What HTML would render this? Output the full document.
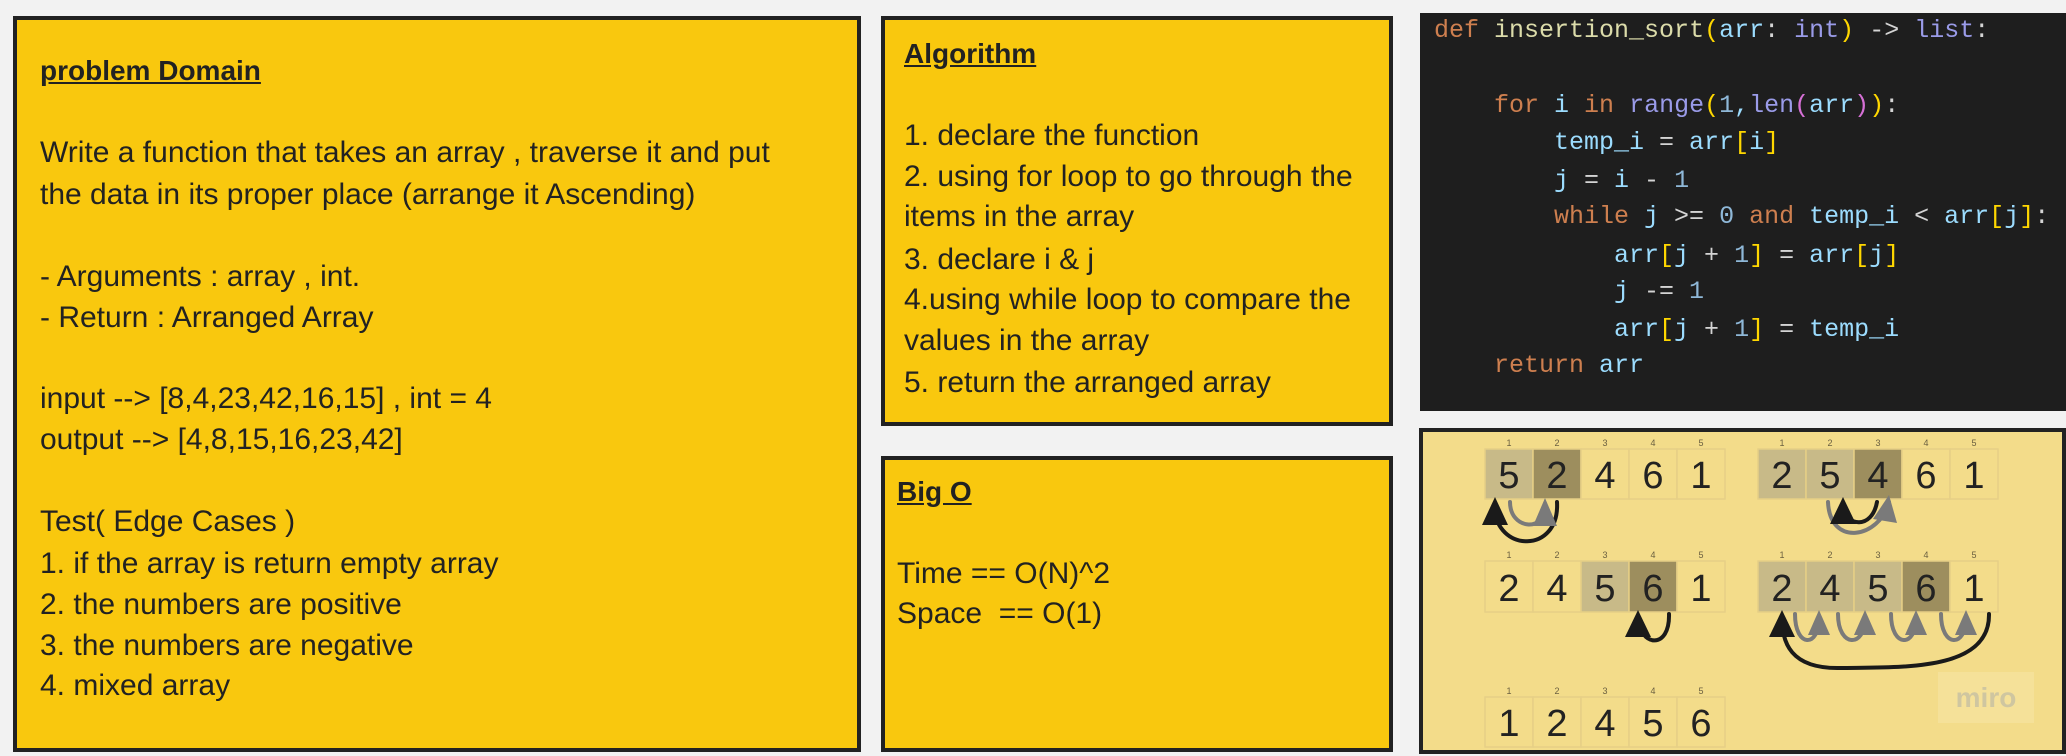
<!DOCTYPE html>
<html><head><meta charset="utf-8"><style>
body{margin:0;width:2066px;height:756px;background:#f2f2f2;position:relative;overflow:hidden;font-family:"Liberation Sans",sans-serif;}
.box{position:absolute;background:#f9c80e;border:4px solid #222;box-sizing:border-box;}
.t{position:absolute;font-size:30px;color:#222;white-space:nowrap;line-height:1;}
.h{font-weight:bold;text-decoration:underline;font-size:28px;}
.code{position:absolute;left:1420px;top:13px;width:646px;height:398px;background:#1e1e1e;}
.cl{position:absolute;font-family:"Liberation Mono",monospace;font-size:25px;color:#9cdcfe;white-space:pre;line-height:1;}
.k{color:#ce7f4f}.f{color:#dcdcaa}.ty{color:#9a9be8}.b{color:#ffd700}.n{color:#8fb8d8}.p{color:#d670d6}.w{color:#d4d4d4}
.dg{position:absolute;left:1419px;top:428px;width:647px;height:326px;background:#f3dc8a;border:4px solid #222;box-sizing:border-box;}
</style></head><body>
<div class="box" style="left:13px;top:16px;width:848px;height:736px"></div>
<div class="t h" style="left:40px;top:57px">problem Domain</div>
<div class="t" style="left:40px;top:138px">Write a function that takes an array , traverse it and put</div>
<div class="t" style="left:40px;top:180px">the data in its proper place (arrange it Ascending)</div>
<div class="t" style="left:40px;top:262px">- Arguments : array , int.</div>
<div class="t" style="left:40px;top:303px">- Return : Arranged Array</div>
<div class="t" style="left:40px;top:384px">input --&gt; [8,4,23,42,16,15] , int = 4</div>
<div class="t" style="left:40px;top:425px">output --&gt; [4,8,15,16,23,42]</div>
<div class="t" style="left:40px;top:507px">Test( Edge Cases )</div>
<div class="t" style="left:40px;top:549px">1. if the array is return empty array</div>
<div class="t" style="left:40px;top:590px">2. the numbers are positive</div>
<div class="t" style="left:40px;top:631px">3. the numbers are negative</div>
<div class="t" style="left:40px;top:671px">4. mixed array</div>

<div class="box" style="left:881px;top:16px;width:512px;height:410px"></div>
<div class="t h" style="left:904px;top:40px">Algorithm</div>
<div class="t" style="left:904px;top:121px">1. declare the function</div>
<div class="t" style="left:904px;top:162px">2. using for loop to go through the</div>
<div class="t" style="left:904px;top:202px">items in the array</div>
<div class="t" style="left:904px;top:245px">3. declare i &amp; j</div>
<div class="t" style="left:904px;top:285px">4.using while loop to compare the</div>
<div class="t" style="left:904px;top:326px">values in the array</div>
<div class="t" style="left:904px;top:368px">5. return the arranged array</div>

<div class="box" style="left:881px;top:456px;width:512px;height:296px"></div>
<div class="t h" style="left:897px;top:478px">Big O</div>
<div class="t" style="left:897px;top:559px">Time == O(N)^2</div>
<div class="t" style="left:897px;top:599px">Space&nbsp; == O(1)</div>

<div class="code"></div>
<div class="cl" style="left:1434px;top:18px"><span class="k">def</span> <span class="f">insertion_sort</span><span class="b">(</span>arr<span class="w">:</span> <span class="ty">int</span><span class="b">)</span> <span class="w">-&gt;</span> <span class="ty">list</span><span class="w">:</span></div>
<div class="cl" style="left:1494px;top:93px"><span class="k">for</span> i <span class="k">in</span> <span class="ty">range</span><span class="b">(</span><span class="n">1</span>,<span class="ty">len</span><span class="p">(</span>arr<span class="p">)</span><span class="b">)</span><span class="w">:</span></div>
<div class="cl" style="left:1554px;top:130px">temp_i <span class="w">=</span> arr<span class="b">[</span>i<span class="b">]</span></div>
<div class="cl" style="left:1554px;top:168px">j <span class="w">=</span> i <span class="w">-</span> <span class="n">1</span></div>
<div class="cl" style="left:1554px;top:204px"><span class="k">while</span> j <span class="w">&gt;=</span> <span class="n">0</span> <span class="k">and</span> temp_i <span class="w">&lt;</span> arr<span class="b">[</span>j<span class="b">]</span><span class="w">:</span></div>
<div class="cl" style="left:1614px;top:243px">arr<span class="b">[</span>j <span class="w">+</span> <span class="n">1</span><span class="b">]</span> <span class="w">=</span> arr<span class="b">[</span>j<span class="b">]</span></div>
<div class="cl" style="left:1614px;top:279px">j <span class="w">-=</span> <span class="n">1</span></div>
<div class="cl" style="left:1614px;top:317px">arr<span class="b">[</span>j <span class="w">+</span> <span class="n">1</span><span class="b">]</span> <span class="w">=</span> temp_i</div>
<div class="cl" style="left:1494px;top:353px"><span class="k">return</span> arr</div>

<div class="dg"></div>
<svg style="position:absolute;left:0;top:0" width="2066" height="756" font-family="Liberation Sans, sans-serif">
<g stroke="#e6cf86" stroke-width="1.5">
<rect x="1485" y="449" width="48" height="50" fill="#c8ba88"/><rect x="1533" y="449" width="48" height="50" fill="#9d8e5e"/><rect x="1581" y="449" width="48" height="50" fill="#f3dc8a"/><rect x="1629" y="449" width="48" height="50" fill="#f3dc8a"/><rect x="1677" y="449" width="48" height="50" fill="#f3dc8a"/>
<rect x="1758" y="449" width="48" height="50" fill="#c8ba88"/><rect x="1806" y="449" width="48" height="50" fill="#c8ba88"/><rect x="1854" y="449" width="48" height="50" fill="#9d8e5e"/><rect x="1902" y="449" width="48" height="50" fill="#f3dc8a"/><rect x="1950" y="449" width="48" height="50" fill="#f3dc8a"/>
<rect x="1485" y="561" width="48" height="51" fill="#f3dc8a"/><rect x="1533" y="561" width="48" height="51" fill="#f3dc8a"/><rect x="1581" y="561" width="48" height="51" fill="#c8ba88"/><rect x="1629" y="561" width="48" height="51" fill="#9d8e5e"/><rect x="1677" y="561" width="48" height="51" fill="#f3dc8a"/>
<rect x="1758" y="561" width="48" height="51" fill="#c8ba88"/><rect x="1806" y="561" width="48" height="51" fill="#c8ba88"/><rect x="1854" y="561" width="48" height="51" fill="#c8ba88"/><rect x="1902" y="561" width="48" height="51" fill="#9d8e5e"/><rect x="1950" y="561" width="48" height="51" fill="#f3dc8a"/>
<rect x="1485" y="697" width="48" height="50" fill="#f3dc8a"/><rect x="1533" y="697" width="48" height="50" fill="#f3dc8a"/><rect x="1581" y="697" width="48" height="50" fill="#f3dc8a"/><rect x="1629" y="697" width="48" height="50" fill="#f3dc8a"/><rect x="1677" y="697" width="48" height="50" fill="#f3dc8a"/>
</g>
<g font-size="38" fill="#222" text-anchor="middle">
<text x="1509" y="488">5</text><text x="1557" y="488">2</text><text x="1605" y="488">4</text><text x="1653" y="488">6</text><text x="1701" y="488">1</text>
<text x="1782" y="488">2</text><text x="1830" y="488">5</text><text x="1878" y="488">4</text><text x="1926" y="488">6</text><text x="1974" y="488">1</text>
<text x="1509" y="601">2</text><text x="1557" y="601">4</text><text x="1605" y="601">5</text><text x="1653" y="601">6</text><text x="1701" y="601">1</text>
<text x="1782" y="601">2</text><text x="1830" y="601">4</text><text x="1878" y="601">5</text><text x="1926" y="601">6</text><text x="1974" y="601">1</text>
<text x="1509" y="736">1</text><text x="1557" y="736">2</text><text x="1605" y="736">4</text><text x="1653" y="736">5</text><text x="1701" y="736">6</text>
</g>
<g font-size="9" fill="#6b6040" text-anchor="middle">
<text x="1509" y="446">1</text><text x="1557" y="446">2</text><text x="1605" y="446">3</text><text x="1653" y="446">4</text><text x="1701" y="446">5</text>
<text x="1782" y="446">1</text><text x="1830" y="446">2</text><text x="1878" y="446">3</text><text x="1926" y="446">4</text><text x="1974" y="446">5</text>
<text x="1509" y="558">1</text><text x="1557" y="558">2</text><text x="1605" y="558">3</text><text x="1653" y="558">4</text><text x="1701" y="558">5</text>
<text x="1782" y="558">1</text><text x="1830" y="558">2</text><text x="1878" y="558">3</text><text x="1926" y="558">4</text><text x="1974" y="558">5</text>
<text x="1509" y="694">1</text><text x="1557" y="694">2</text><text x="1605" y="694">3</text><text x="1653" y="694">4</text><text x="1701" y="694">5</text>
</g>
<g fill="none" stroke-width="4" stroke-linecap="round">
<path d="M1510 502 C1510 530 1545 532 1545 507" stroke="#7a7a7a"/>
<path d="M1557 502 C1560 555 1495 552 1495 507" stroke="#1a1a1a"/>
<path d="M1828 502 C1830 548 1880 538 1889 502" stroke="#7a7a7a"/>
<path d="M1877 502 C1872 530 1845 527 1843 505" stroke="#1a1a1a"/>
<path d="M1669 614 C1670 650 1640 647 1638 618" stroke="#1a1a1a"/>
<path d="M1989 614 C1990 672 1900 667 1840 668 C1790 669 1782 642 1782 618" stroke="#1a1a1a"/>
<path d="M1795 614 C1795 648 1819 648 1819 618" stroke="#7a7a7a"/>
<path d="M1838 614 C1838 648 1865 648 1865 618" stroke="#7a7a7a"/>
<path d="M1891 614 C1891 648 1916 648 1916 618" stroke="#7a7a7a"/>
<path d="M1941 614 C1941 648 1966 648 1966 618" stroke="#7a7a7a"/>
</g>
<g>
<polygon points="1545,498 1533,526 1557,526" fill="#7a7a7a"/>
<polygon points="1495,497 1482,525 1508,525" fill="#1a1a1a"/>
<polygon points="1889,495 1873,519 1897,523" fill="#7a7a7a"/>
<polygon points="1843,497 1830,524 1856,524" fill="#1a1a1a"/>
<polygon points="1638,610 1625,637 1651,637" fill="#1a1a1a"/>
<polygon points="1782,610 1769,637 1795,637" fill="#1a1a1a"/>
<polygon points="1819,610 1808,635 1830,635" fill="#7a7a7a"/>
<polygon points="1865,610 1854,635 1876,635" fill="#7a7a7a"/>
<polygon points="1916,610 1905,635 1927,635" fill="#7a7a7a"/>
<polygon points="1966,610 1955,635 1977,635" fill="#7a7a7a"/>
</g>
<rect x="1938" y="672" width="96" height="51" fill="#f5e199"/>
<text x="1986" y="707" font-size="28" font-weight="bold" fill="#cfc6a0" text-anchor="middle">miro</text>
</svg>
</body></html>
